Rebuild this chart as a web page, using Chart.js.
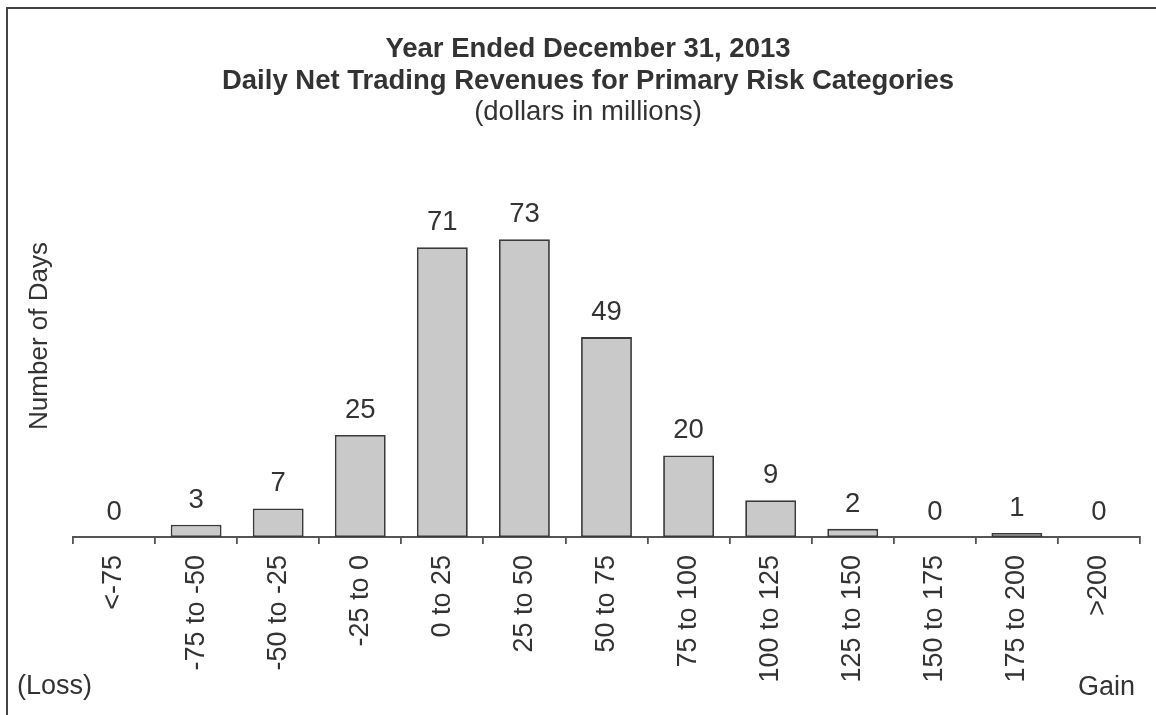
<!DOCTYPE html>
<html>
<head>
<meta charset="utf-8">
<script src="https://cdn.jsdelivr.net/npm/chart.js@4.4.1/dist/chart.umd.min.js"></script>
<style>
  html, body { margin: 0; padding: 0; background: #fff; overflow: hidden; }
</style>
</head>
<body>
<canvas id="myChart" width="1156" height="715"></canvas>
<script>
// Datos del gráfico
const categories = ['<-75', '-75 to -50', '-50 to -25', '-25 to 0', '0 to 25', '25 to 50', '50 to 75',
  '75 to 100', '100 to 125', '125 to 150', '150 to 175', '175 to 200', '>200'];
const days = [0, 3, 7, 25, 71, 73, 49, 20, 9, 2, 0, 1, 0];
const titleLines = ['Year Ended December 31, 2013', 'Daily Net Trading Revenues for Primary Risk Categories'];
const subtitle = '(dollars in millions)';
const yLabel = 'Number of Days';

const FONT = '"Liberation Sans", Arial, sans-serif';
const TEXT = '#333';

// Textos sueltos, etiquetas de valor y el marco
const extras = {
  id: 'extras',
  afterDraw(chart) {
    const ctx = chart.ctx;
    const w = chart.width;
    ctx.save();
    // marco (solo arriba e izquierda)
    ctx.strokeStyle = '#444';
    ctx.lineWidth = 2;
    ctx.beginPath();
    ctx.moveTo(7, chart.height);
    ctx.lineTo(7, 8);
    ctx.lineTo(w, 8);
    ctx.stroke();

    ctx.fillStyle = TEXT;
    ctx.textAlign = 'center';
    ctx.textBaseline = 'alphabetic';
    ctx.font = 'bold 27.5px ' + FONT;
    ctx.fillText(titleLines[0], 588, 57);
    ctx.fillText(titleLines[1], 588, 89);
    ctx.font = '27.5px ' + FONT;
    ctx.fillText(subtitle, 588, 120);

    // valores encima de las barras
    ctx.font = '27.5px ' + FONT;
    const meta = chart.getDatasetMeta(0);
    meta.data.forEach((bar, i) => {
      ctx.fillText(String(days[i]), bar.x, bar.y - 17);
    });

    ctx.font = '27px ' + FONT;
    ctx.textAlign = 'left';
    ctx.fillText('(Loss)', 17, 694);
    ctx.textAlign = 'right';
    ctx.fillText('Gain', 1135, 695);

    ctx.font = '26px ' + FONT;
    ctx.translate(40, 336);
    ctx.rotate(-Math.PI / 2);
    ctx.textAlign = 'center';
    ctx.textBaseline = 'middle';
    ctx.fillText(yLabel, 0, 0);
    ctx.restore();
  }
};

new Chart(document.getElementById('myChart').getContext('2d'), {
  type: 'bar',
  data: {
    labels: categories,
    datasets: [{
      data: days,
      backgroundColor: '#c9c9c9',
      borderColor: '#3a3a3a',
      borderWidth: 1.8,
      borderSkipped: false,
      barPercentage: 0.62,
      categoryPercentage: 1
    }]
  },
  options: {
    responsive: false,
    animation: false,
    devicePixelRatio: 1,
    layout: { padding: { left: 73, right: 16, top: 210.6, bottom: 0 } },
    plugins: { legend: { display: false }, tooltip: { enabled: false }, title: { display: false } },
    scales: {
      x: {
        afterFit: (scale) => { scale.height = 178; },
        grid: { offset: true, drawOnChartArea: false, drawTicks: true, tickLength: 7, color: '#555', lineWidth: 1.8 },
        border: { display: true, color: '#555', width: 2 },
        ticks: { minRotation: 90, maxRotation: 90, autoSkip: false, padding: 11, color: TEXT, font: { family: FONT, size: 27 } }
      },
      y: {
        display: false,
        beginAtZero: true,
        min: 0,
        max: 80
      }
    }
  },
  plugins: [extras]
});
</script>
</body>
</html>
